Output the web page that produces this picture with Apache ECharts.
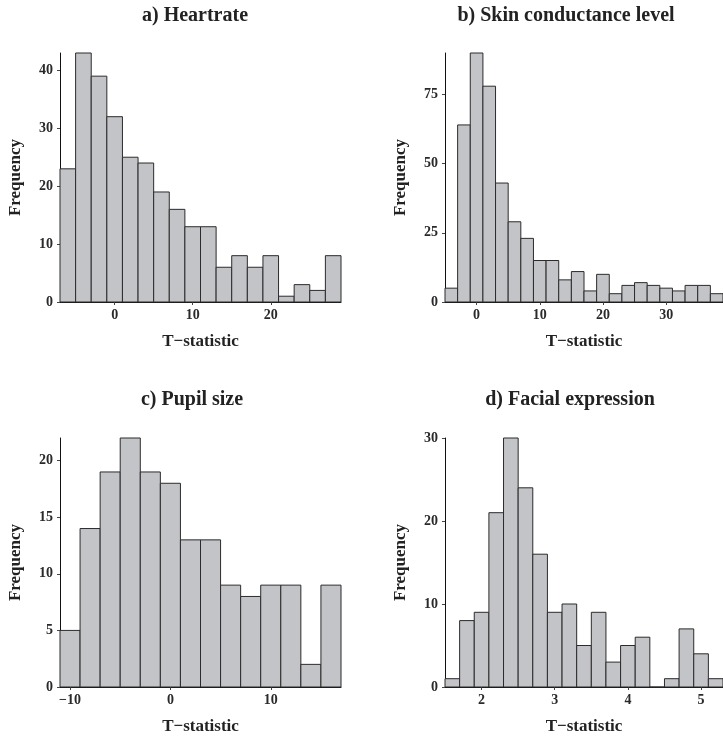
<!DOCTYPE html>
<html>
<head>
<meta charset="utf-8">
<script src="https://cdn.jsdelivr.net/npm/echarts@6/dist/echarts.min.js"></script>
<style>
html,body{margin:0;padding:0;background:#fff;}
#chart{width:723px;height:737px;}
</style>
</head>
<body>
<div id="chart"></div>
<script>
// ---- Data ----
const titles = ['a) Heartrate', 'b) Skin conductance level', 'c) Pupil size', 'd) Facial expression'];
const xAxisTitle = 'T\u2212statistic';
const yAxisTitle = 'Frequency';

const aEdges = [-7,-5,-3,-1,1,3,5,7,9,11,13,15,17,19,21,23,25,27,29];
const aCounts = [23,43,39,32,25,24,19,16,13,13,6,8,6,8,1,3,2,8];
const aXTicks = [0,10,20];
const aYTicks = [0,10,20,30,40];

const bEdges = [-5,-3,-1,1,3,5,7,9,11,13,15,17,19,21,23,25,27,29,31,33,35,37,39];
const bCounts = [5,64,90,78,43,29,23,15,15,8,11,4,10,3,6,7,6,5,4,6,6,3];
const bXTicks = [0,10,20,30];
const bYTicks = [0,25,50,75];

const cEdges = [-11,-9,-7,-5,-3,-1,1,3,5,7,9,11,13,15,17];
const cCounts = [5,14,19,22,19,18,13,13,9,8,9,9,2,9];
const cXTicks = [-10,0,10];
const cYTicks = [0,5,10,15,20];

const dEdges = [1.5,1.7,1.9,2.1,2.3,2.5,2.7,2.9,3.1,3.3,3.5,3.7,3.9,4.1,4.3,4.5,4.7,4.9,5.1,5.3];
const dCounts = [1,8,9,21,30,24,16,9,10,5,9,3,5,6,0,1,7,4,1];
const dXTicks = [2,3,4,5];
const dYTicks = [0,10,20,30];

// ---- Build ----
const panels = [
  {edges:aEdges, counts:aCounts, xt:aXTicks, yt:aYTicks, ymax:43, grid:{left:60, top:53, width:281, height:249}, title:[195,16]},
  {edges:bEdges, counts:bCounts, xt:bXTicks, yt:bYTicks, ymax:90, grid:{left:445, top:53, width:280, height:249}, title:[566,16]},
  {edges:cEdges, counts:cCounts, xt:cXTicks, yt:cYTicks, ymax:22, grid:{left:60, top:438, width:281, height:249}, title:[192,400]},
  {edges:dEdges, counts:dCounts, xt:dXTicks, yt:dYTicks, ymax:30, grid:{left:445, top:438, width:280, height:249}, title:[570,400]}
];

const FONT = '"Liberation Serif", "Times New Roman", serif';
const fmt = v => (v < 0 ? '\u2212' + Math.abs(v) : String(v));

function renderItem(params, api) {
  const x0 = api.value(0), x1 = api.value(1), y = api.value(2);
  const p0 = api.coord([x0, y]);
  const p1 = api.coord([x1, 0]);
  return {
    type: 'rect',
    shape: {x: p0[0], y: p0[1], width: p1[0] - p0[0], height: p1[1] - p0[1]},
    style: {fill: '#c3c4c8', stroke: '#2b2b2b', lineWidth: 1}
  };
}

const option = {
  animation: false,
  backgroundColor: '#ffffff',
  grid: [], xAxis: [], yAxis: [], series: [], graphic: []
};

panels.forEach((p, i) => {
  option.grid.push(Object.assign({containLabel: false}, p.grid));
  option.xAxis.push({
    type: 'value', gridIndex: i,
    min: p.edges[0], max: p.edges[p.edges.length - 1],
    name: xAxisTitle, nameLocation: 'middle', nameGap: 31,
    nameTextStyle: {fontFamily: FONT, fontWeight: 'bold', fontSize: 17, color: '#222'},
    axisLine: {show: true, onZero: false, lineStyle: {color: '#111', width: 1}},
    axisTick: {show: true, length: 3, customValues: p.xt, lineStyle: {color: '#444'}},
    axisLabel: {customValues: p.xt, formatter: fmt, margin: 6, fontFamily: FONT, fontWeight: 'bold', fontSize: 14, color: '#2a2a2a'},
    splitLine: {show: false}
  });
  option.yAxis.push({
    type: 'value', gridIndex: i,
    min: 0, max: p.ymax,
    name: yAxisTitle, nameLocation: 'middle', nameGap: 36, nameRotate: 90,
    nameTextStyle: {fontFamily: FONT, fontWeight: 'bold', fontSize: 17, color: '#222'},
    axisLine: {show: true, onZero: false, lineStyle: {color: '#111', width: 1}},
    axisTick: {show: true, length: 3, customValues: p.yt, lineStyle: {color: '#444'}},
    axisLabel: {customValues: p.yt, formatter: fmt, margin: 7, fontFamily: FONT, fontWeight: 'bold', fontSize: 14, color: '#2a2a2a'},
    splitLine: {show: false}
  });
  const data = p.counts.map((c, k) => [p.edges[k], p.edges[k + 1], c]);
  option.series.push({
    type: 'custom', xAxisIndex: i, yAxisIndex: i,
    renderItem: renderItem, data: data,
    encode: {x: [0, 1], y: 2}, clip: false
  });
  option.graphic.push({
    type: 'text', x: p.title[0], y: p.title[1],
    style: {text: titles[i], font: 'bold 20px ' + FONT, fill: '#222', align: 'center', verticalAlign: 'middle'}
  });
});

const chart = echarts.init(document.getElementById('chart'), null, {renderer: 'canvas'});
chart.setOption(option);
</script>
</body>
</html>
